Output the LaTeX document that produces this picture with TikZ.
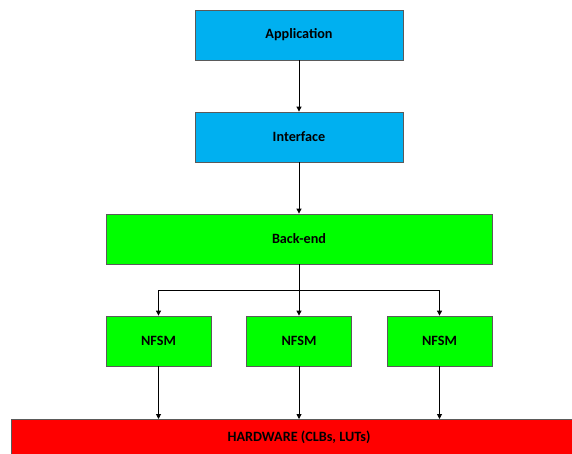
\documentclass[tikz,border=0pt]{standalone}
\usepackage{fontspec}
\setmainfont{Carlito}
\usetikzlibrary{arrows.meta}
\definecolor{appblue}{HTML}{00B0F0}
\definecolor{fsmgreen}{HTML}{00FF00}
\definecolor{hwred}{HTML}{FF0000}
\definecolor{edgegray}{HTML}{5A5A5A}
\tikzset{
  labelfont/.style={font=\bfseries\fontsize{14.2}{16}\selectfont},
  block/.style={draw=edgegray, line width=0.8pt, minimum height=50pt,
    inner sep=0pt, labelfont, text=black},
  bluebox/.style={block, fill=appblue, minimum width=208pt},
  backbox/.style={block, fill=fsmgreen, minimum width=386pt},
  fsmbox/.style={block, fill=fsmgreen, minimum width=105pt},
  hwbox/.style={block, fill=hwred, minimum width=580pt, minimum height=60pt, anchor=north west},
  link/.style={line width=0.9pt, -{Triangle[length=5pt,width=5pt]}},
  plain/.style={line width=0.9pt}
}
\begin{document}
\begin{tikzpicture}[x=1pt,y=-1pt]
  \useasboundingbox (0,0) rectangle (572,453);
  \clip (0,0) rectangle (572,453);
  \node[bluebox] (app) at (299,35) {Application};
  \node[bluebox] (ifc) at (299,137) {Interface};
  \node[backbox] (be) at (299,239) {Back-end};
  \node[fsmbox] (f1) at (158.5,341) {NFSM};
  \node[fsmbox] (f2) at (299,341) {NFSM};
  \node[fsmbox] (f3) at (439.5,341) {NFSM};
  \node[hwbox] (hw) at (10.5,419) {};
  \node[labelfont] (hwlabel) at (299,437) {HARDWARE (CLBs, LUTs)};
  \coordinate (split) at (299,290);
  \draw[link] (app) -- (ifc);
  \draw[link] (ifc) -- (be);
  \draw[plain] (be.south) -- (split);
  \draw[link] (split) -| (f1.north);
  \draw[link] (split) -- (f2.north);
  \draw[link] (split) -| (f3.north);
  \draw[link] (f1.south) -- (f1.south |- hw.north);
  \draw[link] (f2.south) -- (f2.south |- hw.north);
  \draw[link] (f3.south) -- (f3.south |- hw.north);
\end{tikzpicture}
\end{document}
